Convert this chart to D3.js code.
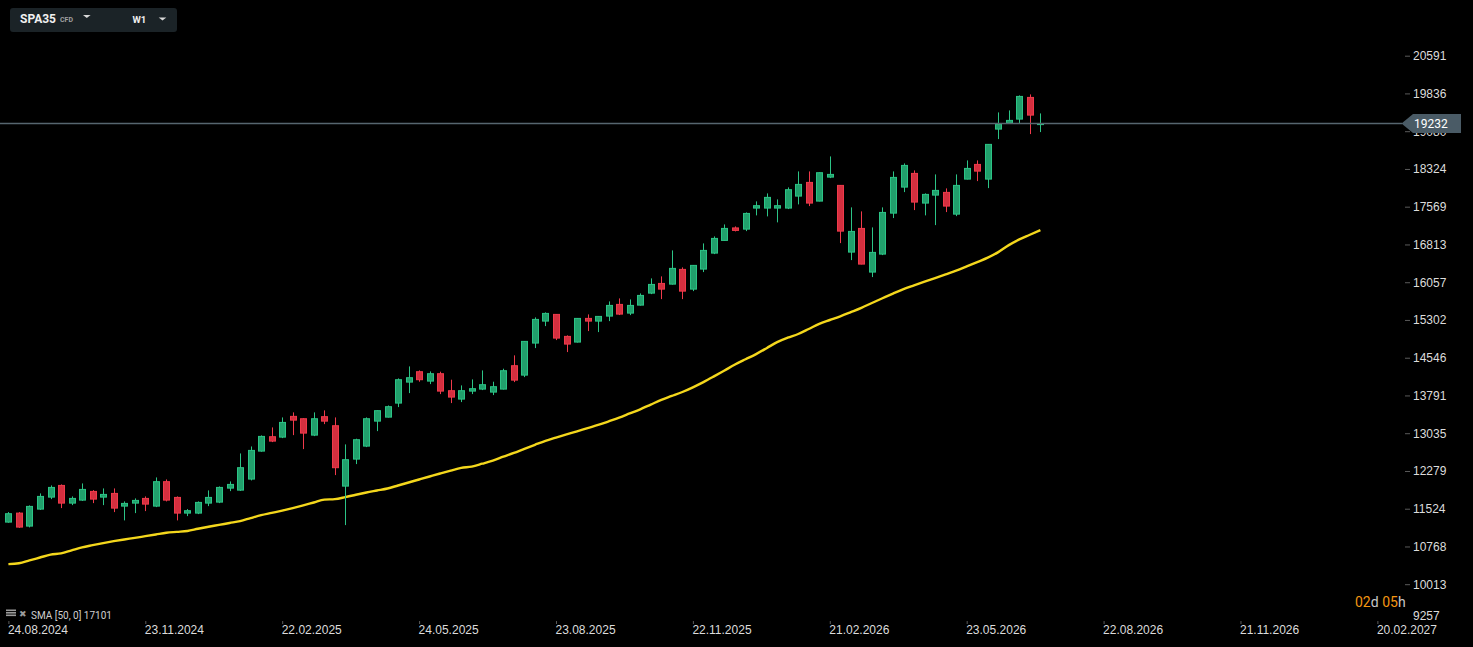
<!DOCTYPE html>
<html>
<head>
<meta charset="utf-8">
<script src="https://cdn.jsdelivr.net/npm/d3@7"></script>
<style>
  html, body { margin: 0; padding: 0; background: #000; overflow: hidden; }
  svg { display: block; font-family: Roboto, "Noto Sans", sans-serif; }
</style>
</head>
<body>
<div id="chart"></div>
<script>
const width = 1473, height = 647;

// weekly candles, first one on 24.08.2024
const startDate = "24.08.2024";
const opens = [
  11256, 11436, 11176, 11516, 11756, 11990, 11636, 11696, 11870, 11756,
  11830, 11576, 11636, 11730, 11576, 12065, 11750, 11436, 11436, 11636,
  11656, 11936, 11896, 12117, 12677, 12965, 12957, 13372, 13325, 12997,
  13366, 13185, 11976, 12517, 12777, 13277, 13357, 13638, 14058, 14266,
  14078, 14226, 13886, 13718, 13878, 13918, 13858, 13918, 14386, 14198,
  14839, 15279, 15413, 14973, 14859, 15333, 15279, 15379, 15613, 15439,
  15599, 15839, 16033, 16019, 16314, 15919, 16320, 16640, 16894, 17144,
  17120, 17541, 17541, 17541, 17541, 17781, 18055, 17681, 18161, 17995,
  16660, 17134, 16260, 16620, 17440, 17961, 18235, 17641, 17801, 17855,
  17420, 18121, 18415, 18121, 19122, 19242, 19322, 19756, 19215
];
const highs = [
  11456, 11456, 11590, 11830, 11990, 12010, 11770, 12030, 11896, 11930,
  11930, 11670, 11730, 11770, 12150, 12110, 11770, 11516, 11670, 11890,
  11970, 12070, 12630, 12770, 12991, 13151, 13351, 13452, 13335, 13452,
  13492, 13351, 12811, 12925, 13351, 13492, 13590, 14132, 14372, 14292,
  14272, 14266, 14106, 13992, 14112, 14292, 14066, 14326, 14593, 14880,
  15353, 15453, 15420, 14993, 15340, 15413, 15380, 15673, 15733, 15713,
  15833, 16134, 16174, 16694, 16354, 16400, 16834, 16974, 17214, 17174,
  17454, 17675, 17835, 17715, 17955, 18275, 18275, 18255, 18575, 18000,
  17555, 17475, 17154, 17555, 18275, 18435, 18295, 17835, 18215, 17935,
  18215, 18495, 18495, 18820, 19456, 19496, 19796, 19816, 19436
];
const lows = [
  11244, 11140, 11150, 11500, 11716, 11536, 11596, 11680, 11636, 11596,
  11456, 11290, 11436, 11476, 11556, 11670, 11290, 11376, 11416, 11576,
  11636, 11876, 11880, 12090, 12665, 12857, 12937, 12997, 12717, 12977,
  13217, 12197, 11196, 12417, 12757, 13077, 13350, 13558, 13838, 14066,
  14018, 13818, 13638, 13658, 13818, 13898, 13798, 13910, 14058, 14158,
  14739, 15179, 14899, 14659, 14850, 15079, 15059, 15279, 15400, 15399,
  15590, 15819, 15719, 16010, 15719, 15879, 16260, 16620, 16890, 17074,
  17080, 17395, 17375, 17255, 17521, 17615, 17581, 17675, 18141, 16840,
  16500, 16415, 16160, 16600, 17341, 17861, 17501, 17395, 17200, 17461,
  17380, 18115, 18081, 17941, 18922, 19236, 19242, 19022, 19062
];
const closes = [
  11424, 11156, 11570, 11770, 11950, 11636, 11730, 11910, 11716, 11810,
  11536, 11630, 11690, 11616, 12065, 11696, 11436, 11484, 11650, 11750,
  11950, 12010, 12345, 12691, 12971, 12877, 13251, 13297, 13037, 13325,
  13277, 12345, 12505, 12905, 13325, 13486, 13566, 14106, 14146, 14106,
  14226, 13878, 13758, 13886, 13926, 14006, 13966, 14286, 14098, 14873,
  15313, 15433, 14939, 14819, 15333, 15279, 15373, 15593, 15419, 15593,
  15793, 16013, 15919, 16334, 15879, 16394, 16694, 16934, 17134, 17094,
  17434, 17589, 17755, 17589, 17909, 18015, 17641, 18249, 18215, 17080,
  17074, 16420, 16654, 17454, 18155, 18395, 17661, 17815, 17895, 17581,
  17995, 18335, 18281, 18816, 19216, 19296, 19776, 19402, 19232
];
// SMA(50)
const sma = [
  10415, 10433, 10489, 10547, 10605, 10630, 10690, 10750, 10794, 10836,
  10874, 10908, 10940, 10974, 11008, 11042, 11060, 11078, 11122, 11162,
  11200, 11238, 11276, 11336, 11394, 11440, 11486, 11536, 11590, 11648,
  11705, 11715, 11756, 11804, 11849, 11889, 11929, 11989, 12049, 12109,
  12169, 12229, 12287, 12341, 12367, 12425, 12487, 12565, 12641, 12723,
  12803, 12881, 12947, 13011, 13073, 13138, 13200, 13272, 13346, 13430,
  13514, 13608, 13702, 13780, 13860, 13954, 14058, 14172, 14290, 14409,
  14515, 14619, 14737, 14859, 14947, 15021, 15121, 15225, 15301, 15375,
  15459, 15545, 15641, 15736, 15830, 15920, 15996, 16070, 16140, 16214,
  16290, 16374, 16460, 16548, 16660, 16800, 16914, 17007, 17101
];

const yTicks = [9257, 10013, 10768, 11524, 12279, 13035, 13791, 14546, 15302,
  16057, 16813, 17569, 18324, 19080, 19836, 20591];
const xTickLabels = ["24.08.2024", "23.11.2024", "22.02.2025", "24.05.2025", "23.08.2025",
  "22.11.2025", "21.02.2026", "23.05.2026", "22.08.2026", "21.11.2026", "20.02.2027"];
const lastPrice = 19232;
const symbol = "SPA35", symbolType = "CFD", timeframe = "W1";
const smaLegend = "SMA [50, 0] 17101";
const countdown = [["02", "#f39612"], ["d ", "#c8c8c8"], ["05", "#f39612"], ["h", "#c8c8c8"]];

const upFill = "#21a06c", upStroke = "#2cc486";
const downFill = "#d42f3f", downStroke = "#f03a4b";

const parse = d3.timeParse("%d.%m.%Y");
const fmt = d3.timeFormat("%d.%m.%Y");
const t0 = parse(startDate);
const candles = opens.map((o, i) => ({
  date: d3.timeWeek.offset(t0, i),
  open: o, high: highs[i], low: lows[i], close: closes[i], sma: sma[i]
}));

const svg = d3.select("#chart").append("svg")
  .attr("width", width)
  .attr("height", height);

svg.append("rect").attr("width", width).attr("height", height).attr("fill", "#000");

const x = d3.scaleTime()
  .domain([candles[0].date, candles[candles.length - 1].date])
  .range([8.4, 1040.4]);

const y = d3.scaleLinear()
  .domain([10013, 20591])
  .range([584.2, 55.7]);

// price axis
const yAxis = svg.append("g")
  .attr("transform", "translate(1405,0)")
  .call(d3.axisRight(y).tickValues(yTicks).tickSize(5).tickFormat(d3.format("d")));
yAxis.select(".domain").remove();
yAxis.selectAll(".tick line").attr("stroke", "#5a5a5a");
yAxis.selectAll(".tick text")
  .attr("fill", "#dcdcdc")
  .style("font-size", "12px")
  .attr("x", 8);
// the lowest label gets pushed up so it stays on screen
yAxis.selectAll(".tick").filter(d => y(d) > 612)
  .each(function (d) {
    const g = d3.select(this);
    g.select("line").remove();
    g.select("text").attr("y", 616 - y(d));
  });

// time axis
const xAxis = svg.append("g")
  .attr("transform", "translate(0,621)")
  .call(d3.axisBottom(x).tickValues(xTickLabels.map(parse)).tickSize(3).tickSizeOuter(0).tickFormat(fmt));
xAxis.select(".domain").remove();
xAxis.selectAll(".tick line").attr("stroke", "#5a5a5a");
xAxis.selectAll(".tick text")
  .attr("fill", "#dcdcdc")
  .attr("text-anchor", "start")
  .attr("x", -1)
  .attr("y", 4)
  .style("font-size", "12px");

// SMA line
svg.append("path")
  .datum(candles)
  .attr("fill", "none")
  .attr("stroke", "#f4d71c")
  .attr("stroke-width", 2.4)
  .attr("stroke-linejoin", "round")
  .attr("d", d3.line().curve(d3.curveMonotoneX).x(d => x(d.date)).y(d => y(d.sma)));

// candles
const cg = svg.append("g");
const candle = cg.selectAll("g.candle")
  .data(candles)
  .enter().append("g")
  .attr("class", "candle");

candle.append("line")
  .attr("x1", d => Math.round(x(d.date)) + 0.5)
  .attr("x2", d => Math.round(x(d.date)) + 0.5)
  .attr("y1", d => y(d.high))
  .attr("y2", d => y(d.low))
  .attr("stroke", d => d.close >= d.open ? upStroke : downStroke)
  .attr("stroke-width", 1);

candle.append("rect")
  .attr("x", d => Math.round(x(d.date)) - 2.5)
  .attr("width", 6)
  .attr("y", d => y(Math.max(d.open, d.close)))
  .attr("height", d => Math.max(1, Math.abs(y(d.open) - y(d.close))))
  .attr("fill", d => d.close >= d.open ? upFill : downFill)
  .attr("stroke", d => d.close >= d.open ? upStroke : downStroke)
  .attr("stroke-width", 1);

// last price line + label
const py = y(lastPrice);
svg.append("line")
  .attr("x1", 0).attr("x2", 1402)
  .attr("y1", py).attr("y2", py)
  .attr("stroke", "#56666f")
  .attr("stroke-width", 1.5);
svg.append("path")
  .attr("d", `M1401.5,${py} L1413,${py - 9.5} L1461,${py - 9.5} L1461,${py + 9.5} L1413,${py + 9.5} Z`)
  .attr("fill", "#4a5b66");
svg.append("text")
  .attr("x", 1414).attr("y", py)
  .attr("dy", "0.35em")
  .attr("fill", "#ffffff")
  .style("font-size", "12px")
  .text(lastPrice);

// symbol box, top left
const box = svg.append("g");
box.append("rect")
  .attr("x", 10).attr("y", 8)
  .attr("width", 167).attr("height", 24)
  .attr("rx", 3)
  .attr("fill", "#1b2327");
box.append("text")
  .attr("x", 20).attr("y", 23)
  .attr("fill", "#f0f0f0")
  .style("font-size", "12px")
  .style("font-weight", "bold")
  .text(symbol);
box.append("text")
  .attr("x", 60).attr("y", 21.5)
  .attr("fill", "#a0a0a0")
  .style("font-size", "7px")
  .style("font-weight", "bold")
  .text(symbolType);
box.append("text")
  .attr("x", 132.5).attr("y", 23.3)
  .attr("fill", "#f0f0f0")
  .style("font-size", "9.5px")
  .style("font-weight", "bold")
  .text(timeframe);
box.selectAll("path.caret")
  .data([[86.8, 15], [162.5, 17.5]])
  .enter().append("path")
  .attr("d", d => `M${d[0] - 3.8},${d[1]} L${d[0] + 3.8},${d[1]} L${d[0]},${d[1] + 3} Z`)
  .attr("fill", "#d8d8d8");

// SMA legend, bottom left
const leg = svg.append("g");
leg.selectAll("rect.bar")
  .data([609.5, 612, 614.5])
  .enter().append("rect")
  .attr("x", 6).attr("y", d => d)
  .attr("width", 10).attr("height", 1.6)
  .attr("fill", "#9a9a9a");
leg.append("text")
  .attr("x", 19).attr("y", 617)
  .attr("fill", "#9a9a9a")
  .style("font-size", "9px")
  .text("\u2716");
leg.append("text")
  .attr("x", 31).attr("y", 618.5)
  .attr("fill", "#cfcfcf")
  .style("font-size", "10px")
  .text(smaLegend);

// bar countdown
const cd = svg.append("text")
  .attr("x", 1355).attr("y", 607.3)
  .style("font-size", "14px");
cd.selectAll("tspan")
  .data(countdown)
  .enter().append("tspan")
  .attr("fill", d => d[1])
  .text(d => d[0]);
</script>
</body>
</html>
